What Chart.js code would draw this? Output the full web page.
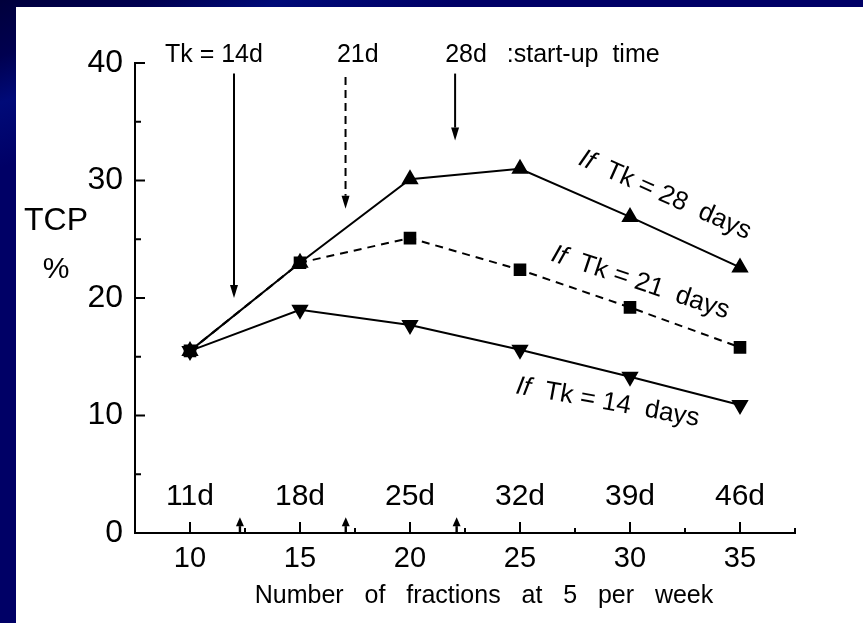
<!DOCTYPE html>
<html>
<head>
<meta charset="utf-8">
<script src="https://cdn.jsdelivr.net/npm/chart.js@4/dist/chart.umd.min.js"></script>
<style>
html, body { margin: 0; padding: 0; width: 863px; height: 623px; overflow: hidden; }
body { background: linear-gradient(160deg, #00003c 0%, #000050 6%, #000a78 11%, #000066 18%, #000066 100%); }
#wrap { position: absolute; left: 16px; top: 7px; width: 847px; height: 616px; background: #fff; }
</style>
</head>
<body>
<div id="wrap"><canvas id="chart" width="847" height="616"></canvas></div>
<script>
// Data
const fractions = [10, 15, 20, 25, 30, 35];
const tcp28 = [15.5, 23.0, 30.1, 31.0, 26.9, 22.6];
const tcp21 = [15.5, 23.0, 25.1, 22.4, 19.2, 15.8];
const tcp14 = [15.5, 19.0, 17.7, 15.6, 13.3, 10.9];

// Tick labels
const xTicks = [10, 15, 20, 25, 30, 35];
const xMinorTicks = [12.5, 17.5, 22.5, 27.5, 32.5, 37.5];
const yTicks = [0, 10, 20, 30, 40];
const yMinorTicks = [5, 15, 25, 35];
const dayLabels = ['11d', '18d', '25d', '32d', '39d', '46d'];

// Start-up time arrows (x value, top value, tip value)
const startX = [12.0, 17.07, 22.05];
const startTop = [39.1, 38.8, 39.1];
const startTip = [20.0, 27.6, 33.4];
const startDashed = [false, true, false];
const startLabels = ['Tk = 14d', '21d', '28d', ':start-up  time'];
const startLabelX = [8.86, 16.68, 21.6, 24.4];
const bottomArrowX = [12.27, 17.08, 22.12];

// Curve labels
const curveLabels = ['Tk = 28  days', 'Tk = 21  days', 'Tk = 14  days'];
const curveLabelX = [27.6, 26.36, 24.77];
const curveLabelY = [31.4, 23.2, 11.9];
const curveLabelAngle = [24, 18.3, 10.2];

const FONT = '"Liberation Sans", Arial, sans-serif';
const chartCanvas = document.getElementById('chart');

function arrow(ctx, px, pTop, pTip, dashed, head, half) {
    const dir = Math.sign(pTip - pTop);
    ctx.setLineDash(dashed ? [8, 5] : []);
    ctx.beginPath();
    ctx.moveTo(px, pTop);
    ctx.lineTo(px, pTip - dir * head);
    ctx.stroke();
    ctx.setLineDash([]);
    ctx.beginPath();
    ctx.moveTo(px - half, pTip - dir * head);
    ctx.lineTo(px, pTip);
    ctx.lineTo(px + half, pTip - dir * head);
    ctx.closePath();
    ctx.fill();
}

// Draws inward ticks, arrows and text annotations
const overlay = {
    id: 'overlay',
    afterDraw(chart) {
        const { ctx, scales: { x, y } } = chart;
        const x0 = x.getPixelForValue(x.min);
        const y0 = y.getPixelForValue(0);
        ctx.save();
        ctx.strokeStyle = '#000';
        ctx.fillStyle = '#000';
        ctx.lineWidth = 2;

        // inward ticks
        ctx.beginPath();
        xTicks.forEach(v => { const p = x.getPixelForValue(v); ctx.moveTo(p, y0); ctx.lineTo(p, y0 - 11); });
        xMinorTicks.forEach(v => { const p = x.getPixelForValue(v); ctx.moveTo(p, y0); ctx.lineTo(p, y0 - 5); });
        yTicks.forEach(v => { const p = y.getPixelForValue(v); ctx.moveTo(x0, p); ctx.lineTo(x0 + 10, p); });
        yMinorTicks.forEach(v => { const p = y.getPixelForValue(v); ctx.moveTo(x0, p); ctx.lineTo(x0 + 6, p); });
        ctx.stroke();

        // start-up arrows
        ctx.lineWidth = 2;
        startX.forEach((v, i) => {
            arrow(ctx, x.getPixelForValue(v), y.getPixelForValue(startTop[i]),
                y.getPixelForValue(startTip[i]), startDashed[i], 13, 4);
        });
        ctx.lineWidth = 2.4;
        bottomArrowX.forEach(v => {
            arrow(ctx, x.getPixelForValue(v), y0, y.getPixelForValue(1.35), false, 9, 4);
        });

        // top labels
        ctx.font = '25px ' + FONT;
        ctx.textAlign = 'left';
        ctx.textBaseline = 'alphabetic';
        startLabels.forEach((t, i) => ctx.fillText(t, x.getPixelForValue(startLabelX[i]), 55));

        // day labels
        ctx.font = '30px ' + FONT;
        ctx.textAlign = 'center';
        dayLabels.forEach((t, i) => ctx.fillText(t, x.getPixelForValue(xTicks[i]), 498));

        // y title
        ctx.font = '32px ' + FONT;
        ctx.textBaseline = 'middle';
        ctx.fillText('TCP', 40, 214);
        ctx.font = '30px ' + FONT;
        ctx.fillText('%', 40, 263);

        // x title
        ctx.font = '25px ' + FONT;
        ctx.fillText('Number   of   fractions   at   5   per   week', 468, 589);

        // curve labels
        ctx.textAlign = 'left';
        ctx.textBaseline = 'alphabetic';
        curveLabels.forEach((t, i) => {
            ctx.save();
            ctx.translate(x.getPixelForValue(curveLabelX[i]), y.getPixelForValue(curveLabelY[i]));
            ctx.rotate(curveLabelAngle[i] * Math.PI / 180);
            ctx.font = 'italic 26px ' + FONT;
            ctx.fillText('If', 0, 0);
            const w = ctx.measureText('If  ').width;
            ctx.font = '26px ' + FONT;
            ctx.fillText(t, w, 0);
            ctx.restore();
        });
        ctx.restore();
    }
};

const toXY = vals => vals.map((v, i) => ({ x: fractions[i], y: v }));

new Chart(chartCanvas, {
    type: 'line',
    data: {
        datasets: [
            {
                label: 'Tk = 28 days', data: toXY(tcp28),
                borderColor: '#000', backgroundColor: '#000', borderWidth: 2,
                pointStyle: 'triangle', pointRadius: 8
            },
            {
                label: 'Tk = 21 days', data: toXY(tcp21),
                borderColor: '#000', backgroundColor: '#000', borderWidth: 2,
                borderDash: [8, 6], pointStyle: 'rect', pointRadius: 7.5
            },
            {
                label: 'Tk = 14 days', data: toXY(tcp14),
                borderColor: '#000', backgroundColor: '#000', borderWidth: 2,
                pointStyle: 'triangle', pointRotation: 180, pointRadius: 8
            }
        ]
    },
    options: {
        responsive: false,
        animation: false,
        layout: { padding: { top: 56, right: 68, bottom: 0, left: 0 } },
        plugins: { legend: { display: false }, tooltip: { enabled: false } },
        scales: {
            x: {
                type: 'linear', min: 7.5, max: 37.5,
                grid: { display: false, drawTicks: false },
                border: { display: true, color: '#000', width: 2 },
                afterBuildTicks: s => { s.ticks = xTicks.map(v => ({ value: v })); },
                afterFit: s => { s.height = 90; },
                ticks: { color: '#000', font: { size: 29, family: FONT }, padding: 9, maxRotation: 0 }
            },
            y: {
                type: 'linear', min: 0, max: 40,
                grid: { display: false, drawTicks: false },
                border: { display: true, color: '#000', width: 2 },
                afterBuildTicks: s => { s.ticks = yTicks.map(v => ({ value: v })); },
                afterFit: s => { s.width = 119; },
                ticks: { color: '#000', font: { size: 32, family: FONT }, padding: 12 }
            }
        }
    },
    plugins: [overlay]
});
</script>
</body>
</html>
